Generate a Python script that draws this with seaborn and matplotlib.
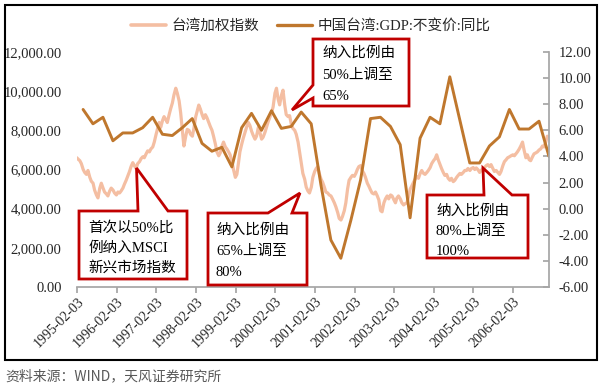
import matplotlib
matplotlib.use("Agg")
import matplotlib.pyplot as plt
import matplotlib.dates as mdates
from matplotlib.patches import Polygon, Rectangle
from matplotlib.lines import Line2D
from matplotlib.ticker import FuncFormatter, FixedLocator
import pandas as pd
import seaborn as sns

# ---------------- data ----------------
# TAIEX, two readings per month (1st half / 2nd half), Feb 1995 - Dec 2006
taiex_values = [
    # 1995 Feb-Dec
    6600, 6520, 6450, 6300, 6000, 5850, 5750, 5950, 5600, 5400, 5300, 4950,
    4700, 4550, 5050, 5300, 5050, 4850, 4750, 4650, 4900, 5050,
    # 1996
    4950, 4800, 4700, 4850, 4800, 4900, 5050, 5250, 5450, 5650, 5900, 6150,
    6350, 6200, 6050, 6300, 6400, 6550, 6650, 6600, 6800, 6950, 6900, 7050,
    # 1997
    7150, 7400, 7800, 8100, 8400, 8150, 8500, 8700, 8550, 8400, 8800, 9100,
    9400, 9800, 10150, 9900, 9500, 8900, 8000, 7200, 7700, 8050, 8000, 7800,
    # 1998
    7700, 8100, 8700, 9000, 9290, 9100, 8800, 8600, 8800, 8650, 8400, 8200,
    8000, 7700, 7300, 6900, 6700, 6850, 7200, 7400, 7150, 7050, 6900, 6750,
    # 1999
    6400, 6000, 5600, 5750, 6300, 6900, 7300, 7600, 7900, 8150, 8400, 8250,
    7950, 7750, 7550, 7700, 8150, 7900, 7550, 7650, 7900, 8150, 8450, 8650,
    # 2000
    8900, 9200, 9900, 10150, 9600, 9300, 9800, 10050, 9300, 8800, 8700, 8750,
    8300, 8100, 8000, 7800, 7400, 6900, 6300, 5800, 5500, 5100, 4900, 4800,
    # 2001
    5100, 5600, 5900, 6050, 6150, 5800, 5500, 5350, 5100, 4850, 4800, 4700,
    4650, 4500, 4300, 4100, 3800, 3500, 3420, 3600, 3900, 4300, 5000, 5450,
    # 2002
    5600, 5700, 5650, 5800, 6000, 6150, 6200, 5950, 5800, 5600, 5300, 5150,
    4950, 4800, 4750, 4850, 4650, 4450, 3900, 3840, 4300, 4500, 4650, 4500,
    # 2003
    4700, 4650, 4450, 4300, 4550, 4650, 4500, 4300, 4190, 4250, 4300, 4600,
    5000, 5150, 5350, 5500, 5650, 5550, 5800, 5950, 5800, 5750, 5850, 5950,
    # 2004
    6100, 6300, 6450, 6550, 6750, 6500, 6250, 6050, 5850, 5700, 5750, 5550,
    5450, 5550, 5380, 5450, 5600, 5700, 5800, 5750, 5850, 5950, 5950, 6050,
    # 2005
    5950, 6050, 6100, 6000, 6080, 6000, 5850, 5950, 6050, 6100, 6200, 6250,
    6150, 6250, 6050, 5900, 5950, 5850, 5750, 5900, 6200, 6400, 6500, 6600,
    # 2006
    6650, 6700, 6750, 6700, 6800, 6900, 7050, 7200, 7400, 7000, 6600, 6750,
    6500, 6450, 6650, 6800, 6850, 6900, 7000, 7050, 7200, 7150, 7400, 7700,
]

# Taiwan real GDP growth, y/y %, quarterly 1995Q1 - 2006Q4
gdp_values = [
    7.6, 6.5, 7.0, 5.2,      # 1995
    5.8, 5.8, 6.2, 7.0,      # 1996
    5.7, 5.6, 6.2, 6.9,      # 1997
    5.0, 4.4, 4.7, 3.2,      # 1998
    6.2, 7.3, 6.0, 7.5,      # 1999
    6.15, 6.3, 7.4, 6.5,     # 2000
    1.8, -2.4, -3.8, -0.9,   # 2001
    2.2, 6.9, 7.0, 6.3,      # 2002
    4.9, -0.7, 5.4, 7.0,     # 2003
    6.5, 10.1, 6.8, 3.5,     # 2004
    3.5, 4.8, 5.5, 7.6,      # 2005
    6.1, 6.1, 6.7, 4.0,      # 2006
]

xtick_labels = ["1995-02-03", "1996-02-03", "1997-02-03", "1998-02-03",
                "1999-02-03", "2000-02-03", "2001-02-03", "2002-02-03",
                "2003-02-03", "2004-02-03", "2005-02-03", "2006-02-03"]
left_ticks = [0, 2000, 4000, 6000, 8000, 10000, 12000]
right_ticks = [-6, -4, -2, 0, 2, 4, 6, 8, 10, 12]

name_taiex = "台湾加权指数"
name_gdp = "中国台湾:GDP:不变价:同比"

# ---------------- frames ----------------
taiex_dates = pd.date_range("1995-02-01", periods=len(taiex_values), freq="SMS")
df_t = pd.DataFrame({"date": taiex_dates, "value": taiex_values})
gdp_dates = pd.date_range("1995-03-31", periods=len(gdp_values), freq="QE")
df_g = pd.DataFrame({"date": gdp_dates, "value": gdp_values})

# ---------------- style ----------------
sns.set_theme(style="white")
plt.rcParams["font.family"] = ["Liberation Serif", "Noto Sans CJK SC", "DejaVu Sans"]

W, H = 600, 389
def px(x, y):
    return (x / W, 1 - y / H)

LIGHT = "#F4BEA2"
DARK = "#BF772D"
RED = "#C00000"
SPINE = "#A6A6A6"

fig = plt.figure(figsize=(6.0, 3.89), dpi=100)
ax = fig.add_axes([77 / W, 1 - 287 / H, (549 - 77) / W, (287 - 52) / H])

sns.lineplot(data=df_t, x="date", y="value", ax=ax, color=LIGHT, linewidth=2.3)
ax2 = ax.twinx()
sns.lineplot(data=df_g, x="date", y="value", ax=ax2, color=DARK, linewidth=2.1)

ax.set_xlim(pd.Timestamp("1995-02-03"), pd.Timestamp("2006-12-31"))
ax.set_ylim(0, 12000)
ax2.set_ylim(-6, 12)

for a in (ax, ax2):
    a.set_xlabel("")
    a.set_ylabel("")

ax.xaxis.set_major_locator(FixedLocator(mdates.date2num(pd.to_datetime(xtick_labels))))
ax.set_xticklabels(xtick_labels, rotation=45, ha="right", rotation_mode="anchor", fontsize=10)
ax.set_yticks(left_ticks)
ax.yaxis.set_major_formatter(FuncFormatter(lambda v, p: f"{v:,.2f}"))
ax2.set_yticks(right_ticks)
ax2.yaxis.set_major_formatter(FuncFormatter(lambda v, p: f"{v:.2f}"))

for a in (ax, ax2):
    for s in a.spines.values():
        s.set_visible(False)
ax.spines["bottom"].set_visible(True)
ax.spines["bottom"].set_color(SPINE)
ax2.spines["right"].set_visible(True)
ax2.spines["right"].set_color(SPINE)

ax.tick_params(axis="x", bottom=True, length=4, color=SPINE, pad=2, labelsize=10)
ax.tick_params(axis="y", left=False, length=0, pad=11, labelsize=10.5)
ax2.tick_params(axis="y", right=True, direction="in", length=4, color=SPINE, pad=7, labelsize=10.5)
ax.grid(False)
ax2.grid(False)

# legend
handles = [Line2D([], [], color=LIGHT, lw=2.6), Line2D([], [], color=DARK, lw=2.4)]
fig.legend(handles, [name_taiex, name_gdp], loc="center", bbox_to_anchor=px(311, 26),
           ncol=2, frameon=False, fontsize=10.5, handlelength=2.4, columnspacing=1.2,
           handletextpad=0.4)

# outer frame
fig.add_artist(Rectangle(px(5, 360), 592 / W, 355 / H, transform=fig.transFigure,
                         fill=False, edgecolor="black", linewidth=1.5, zorder=10))

# callouts
def callout(points, lines, tx, ty, dy=21):
    poly = Polygon([px(x, y) for x, y in points], closed=True, transform=fig.transFigure,
                   facecolor="white", edgecolor=RED, linewidth=2.0, zorder=20,
                   joinstyle="miter")
    fig.add_artist(poly)
    for i, t in enumerate(lines):
        fig.text(*px(tx, ty + i * dy), t, fontsize=10.5, va="center", ha="left",
                 color="black", zorder=21)

callout([(79, 211), (138, 211), (136.5, 168), (168, 211), (187, 211), (187, 279), (79, 279)],
        ["首次以50%比", "例纳入MSCI", "新兴市场指数"], 88, 228, 20)
callout([(208, 213), (268, 213), (300, 193), (292, 213), (307, 213), (307, 285), (208, 285)],
        ["纳入比例由", "65%上调至", "80%"], 216, 230, 21)
callout([(313, 39), (409, 39), (409, 106), (313, 106), (313, 98), (292, 110), (313, 85)],
        ["纳入比例由", "50%上调至", "65%"], 322, 53, 22)
callout([(427, 195), (484, 195), (483, 168), (512, 195), (528, 195), (528, 258), (427, 258)],
        ["纳入比例由", "80%上调至", "100%"], 436, 211, 20)

fig.text(*px(5, 376), "资料来源：WIND，天风证券研究所", fontsize=10, va="center", ha="left",
         color="#595959", family=["Noto Sans CJK SC", "DejaVu Sans"])

fig.savefig("out.png", dpi=100)
